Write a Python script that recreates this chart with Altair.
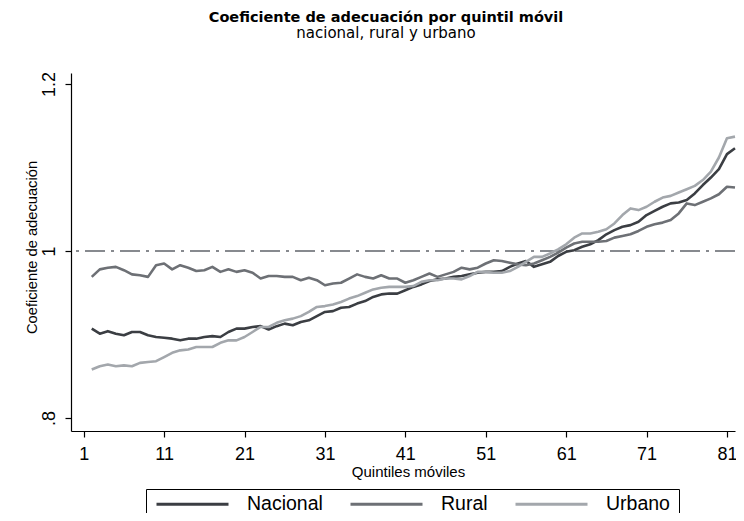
import altair as alt
import pandas as pd

# Moving quintile index (as positioned in the reference)
quintil = list(range(2, 83))

nacional = [0.907, 0.901, 0.904, 0.901, 0.899, 0.903, 0.903, 0.899, 0.897, 0.896,
            0.895, 0.893, 0.895, 0.895, 0.897, 0.898, 0.897, 0.903, 0.907, 0.907,
            0.909, 0.910, 0.906, 0.910, 0.913, 0.911, 0.915, 0.917, 0.922, 0.927,
            0.928, 0.932, 0.933, 0.937, 0.940, 0.945, 0.948, 0.949, 0.949, 0.953,
            0.957, 0.960, 0.964, 0.966, 0.967, 0.969, 0.970, 0.972, 0.974, 0.975,
            0.975, 0.976, 0.981, 0.985, 0.988, 0.981, 0.984, 0.987, 0.994, 0.999,
            1.001, 1.005, 1.008, 1.013, 1.020, 1.025, 1.029, 1.031, 1.035, 1.043,
            1.048, 1.053, 1.057, 1.058, 1.061, 1.069, 1.079, 1.088, 1.098, 1.116,
            1.123]

rural = [0.969, 0.978, 0.980, 0.981, 0.977, 0.972, 0.971, 0.969, 0.983, 0.985,
         0.978, 0.983, 0.980, 0.976, 0.977, 0.981, 0.975, 0.978, 0.975, 0.977,
         0.974, 0.967, 0.970, 0.970, 0.969, 0.969, 0.965, 0.968, 0.965, 0.959,
         0.961, 0.962, 0.967, 0.972, 0.969, 0.967, 0.971, 0.967, 0.967, 0.962,
         0.965, 0.969, 0.973, 0.969, 0.972, 0.975, 0.980, 0.978, 0.980, 0.985,
         0.989, 0.988, 0.986, 0.984, 0.983, 0.985, 0.989, 0.993, 0.998, 1.004,
         1.009, 1.011, 1.011, 1.011, 1.012, 1.016, 1.018, 1.020, 1.024, 1.029,
         1.032, 1.034, 1.037, 1.045, 1.057, 1.055, 1.059, 1.063, 1.068, 1.077,
         1.076]

urbano = [0.858, 0.862, 0.864, 0.862, 0.863, 0.862, 0.866, 0.867, 0.868, 0.873,
          0.878, 0.881, 0.882, 0.885, 0.885, 0.885, 0.890, 0.893, 0.893, 0.897,
          0.903, 0.909, 0.909, 0.914, 0.917, 0.919, 0.922, 0.927, 0.933, 0.934,
          0.936, 0.939, 0.943, 0.946, 0.950, 0.954, 0.956, 0.957, 0.957, 0.957,
          0.958, 0.963, 0.965, 0.965, 0.967, 0.967, 0.966, 0.970, 0.975, 0.975,
          0.974, 0.974, 0.976, 0.981, 0.987, 0.993, 0.993, 0.997, 1.002, 1.008,
          1.016, 1.021, 1.021, 1.023, 1.026, 1.033, 1.043, 1.051, 1.049, 1.053,
          1.059, 1.064, 1.066, 1.070, 1.074, 1.078, 1.085, 1.095, 1.112, 1.135,
          1.137]

series = ["Nacional", "Rural", "Urbano"]
colors = ["#3b3e43", "#6d7075", "#a3a7ac"]
x_ticks = [1, 11, 21, 31, 41, 51, 61, 71, 81]
y_ticks = [0.8, 1.0, 1.2]
ref_value = [1.0]

rows = []
for name, vals in zip(series, [nacional, rural, urbano]):
    for q, v in zip(quintil, vals):
        rows.append({"quintil": q, "valor": v, "serie": name})
df = pd.DataFrame(rows)

x_enc = alt.X(
    "quintil:Q",
    scale=alt.Scale(domain=[-0.58, 82.0], nice=False, zero=False),
    axis=alt.Axis(
        values=x_ticks, title="Quintiles móviles", grid=False,
        labelFont="Liberation Sans", labelFontSize=18, labelColor="black",
        labelPadding=8, labelFlush=False, labelOverlap=False,
        tickSize=6, tickColor="black", tickWidth=1.2,
        domainColor="black", domainWidth=1.2,
        titleFont="Liberation Sans", titleFontSize=15, titleFontWeight="normal",
        titleColor="black", titleX=337, titleY=45, titleAlign="center",
        titleBaseline="alphabetic",
    ),
)

y_enc = alt.Y(
    "valor:Q",
    scale=alt.Scale(domain=[0.7844, 1.2132], nice=False, zero=False),
    axis=alt.Axis(
        values=y_ticks, grid=False,
        labelExpr="datum.value < 0.9 ? '.8' : (datum.value < 1.1 ? '1' : '1.2')",
        labelAngle=270, labelAlign="center", labelBaseline="alphabetic",
        labelFont="Liberation Sans", labelFontSize=18, labelColor="black",
        labelPadding=11, labelFlush=False, labelOverlap=False,
        tickSize=6, tickColor="black", tickWidth=1.2,
        domainColor="black", domainWidth=1.2,
        title="Coeficiente de adecuación",
        titleFont="Liberation Sans", titleFontSize=14.7, titleFontWeight="normal",
        titleColor="black", titleAngle=270, titleX=-35, titleY=174,
        titleAlign="center", titleBaseline="alphabetic",
    ),
)

lines = alt.Chart(df).mark_line(strokeWidth=2.6, strokeJoin="round").encode(
    x=x_enc,
    y=y_enc,
    color=alt.Color(
        "serie:N",
        scale=alt.Scale(domain=series, range=colors),
        legend=alt.Legend(
            title=None, orient="none", legendX=75, legendY=416,
            direction="horizontal", symbolType="stroke", symbolSize=5184,
            symbolStrokeWidth=3, clipHeight=12,
            labelFont="Liberation Sans", labelFontSize=19.5, labelColor="black",
            labelOffset=17, columnPadding=26, padding=9,
            strokeColor="black", fillColor="white",
        ),
    ),
)

rule = alt.Chart(pd.DataFrame({"valor": ref_value})).mark_rule(
    color="#878a8f", strokeWidth=2, strokeDash=[20, 6, 3, 6]
).encode(y="valor:Q")

chart = alt.layer(rule, lines).properties(
    width=664,
    height=358,
    autosize=alt.AutoSizeParams(type="none"),
    padding={"left": 63, "top": 65, "right": 1, "bottom": 82},
    background="white",
    title=alt.TitleParams(
        text="Coeficiente de adecuación por quintil móvil",
        subtitle="nacional, rural y urbano",
        font="DejaVu Sans", fontSize=14.5, fontWeight="bold", color="black",
        subtitleFont="DejaVu Sans", subtitleFontSize=15, subtitleColor="black",
        anchor="middle", dx=-17, offset=30, subtitlePadding=0,
    ),
).configure_view(strokeWidth=0)

chart.save("out.html", embed_options={"renderer": "svg", "actions": False})
